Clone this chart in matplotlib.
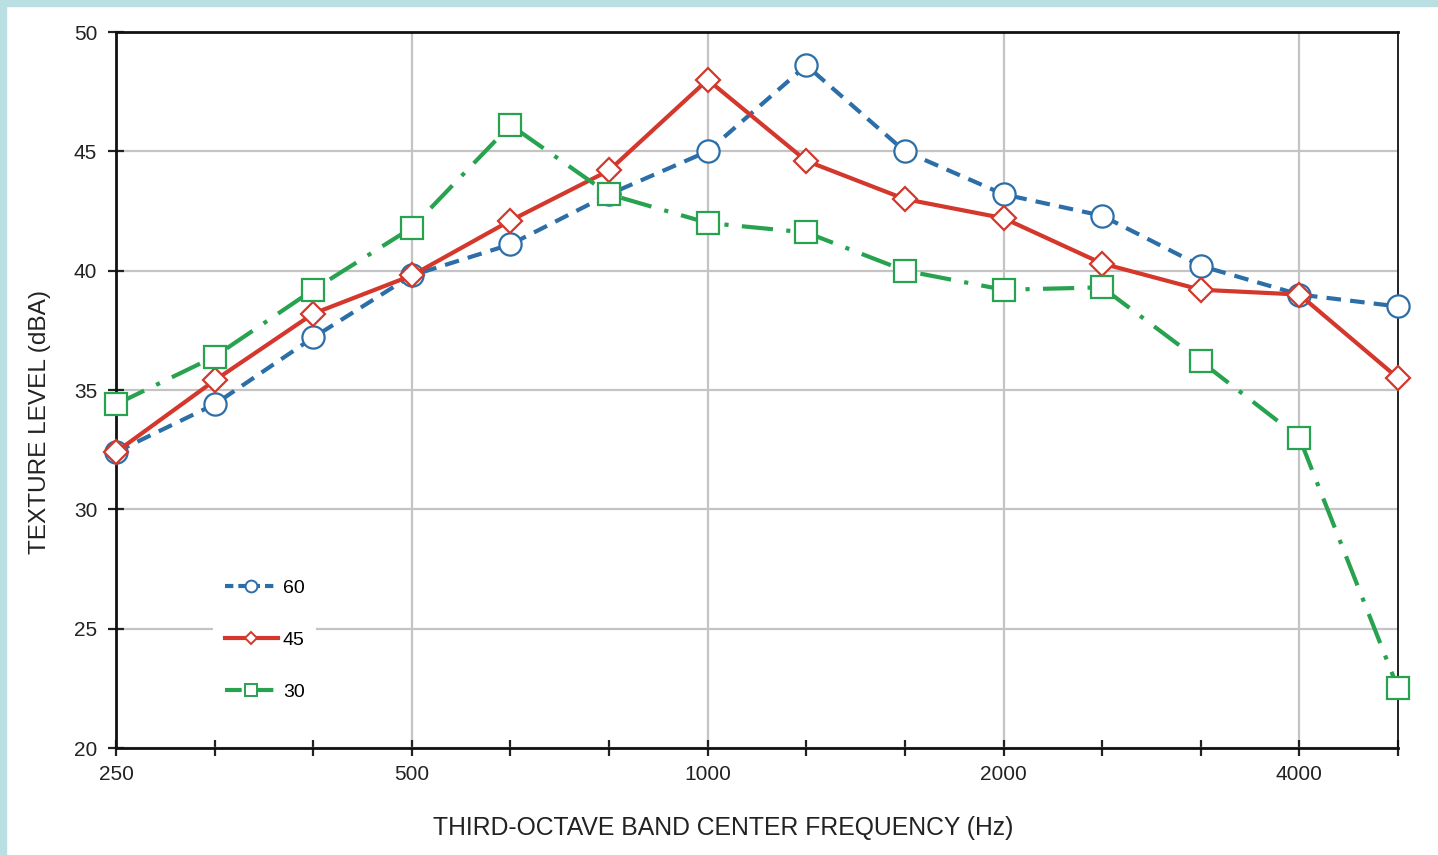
import numpy as np
import matplotlib.pyplot as plt
from matplotlib.lines import Line2D
from matplotlib.patches import Rectangle

plt.rcParams['font.family'] = ['Liberation Sans', 'DejaVu Sans']

# third-octave band centres (Hz)
bands = [250, 315, 400, 500, 630, 800, 1000, 1250, 1600, 2000, 2500, 3150, 4000, 5000]
labelled = [250, 500, 1000, 2000, 4000]

# texture level (dBA) per band, one series per condition
level_60 = [32.4, 34.4, 37.2, 39.8, 41.1, 43.2, 45.0, 48.6, 45.0, 43.2, 42.3, 40.2, 39.0, 38.5]
level_45 = [32.4, 35.4, 38.2, 39.8, 42.1, 44.2, 48.0, 44.6, 43.0, 42.2, 40.3, 39.2, 39.0, 35.5]
level_30 = [34.4, 36.4, 39.2, 41.8, 46.1, 43.2, 42.0, 41.6, 40.0, 39.2, 39.3, 36.2, 33.0, 22.5]

BLUE = '#2b6ea8'
RED = '#d4372b'
GREEN = '#27a24f'

fig = plt.figure(figsize=(14.38, 8.55), dpi=100)
fig.patch.set_facecolor('white')
# light frame along the top and left edges
fig.patches.append(Rectangle((0, 1 - 6 / 855), 1, 6 / 855, transform=fig.transFigure,
                             color='#b9dfe3', zorder=0))
fig.patches.append(Rectangle((0, 0), 6 / 1438, 1, transform=fig.transFigure,
                             color='#b9dfe3', zorder=0))

ax = fig.add_axes([116 / 1438, 1 - 748 / 855, (1398 - 116) / 1438, (748 - 32) / 855])

x = np.arange(len(bands))

series = [
    (level_60, '60', BLUE, (0, (3.5, 2.2)), 'o', 16),
    (level_45, '45', RED, '-', 'D', 12),
    (level_30, '30', GREEN, (0, (7.5, 3.2, 1, 3.2)), 's', 16),
]
for vals, name, col, ls, mk, ms in series:
    ax.plot(x, vals, color=col, lw=3, ls=ls, marker=mk, ms=ms, mfc='white',
            mec=col, mew=1.6, clip_on=False, zorder=3)

ax.set_xlim(0, len(bands) - 1)
ax.set_ylim(20, 50)

major_idx = [bands.index(b) for b in labelled]
ax.set_xticks(major_idx)
ax.set_xticklabels([str(b) for b in labelled])
ax.set_xticks([i for i in x if i not in major_idx], minor=True)
ax.set_yticks(np.arange(20, 51, 5))

ax.tick_params(axis='both', which='both', direction='inout', length=11, width=1.6,
               color='#222222', labelsize=15, labelcolor='#222222')
ax.tick_params(axis='x', which='major', pad=7)
ax.tick_params(axis='y', which='major', pad=8)

ax.grid(True, which='major', color='#c4c4c4', lw=1.6, zorder=0)
ax.set_axisbelow(True)

for side in ['left', 'bottom', 'top']:
    ax.spines[side].set_linewidth(2)
ax.spines['right'].set_linewidth(1.3)
for sp in ax.spines.values():
    sp.set_color('#111111')
    sp.set_zorder(2.5)

fig.text(40 / 1438, 1 - 422 / 855, 'TEXTURE LEVEL (dBA)', rotation=90,
         ha='center', va='center', fontsize=17.6, color='#222222')
fig.text(723 / 1438, 1 - 828 / 855, 'THIRD-OCTAVE BAND CENTER FREQUENCY (Hz)',
         ha='center', va='center', fontsize=17.8, color='#222222')

handles = [
    Line2D([], [], color=BLUE, lw=3, ls=(0, (2, 1.2)), marker='o', ms=8.5, mfc='white', mec=BLUE, mew=1.4),
    Line2D([], [], color=RED, lw=3, ls='-', marker='D', ms=6, mfc='white', mec=RED, mew=1.4),
    Line2D([], [], color=GREEN, lw=3, ls=(0, (4, 1.5, 0.6, 1.5)), marker='s', ms=8.5, mfc='white', mec=GREEN, mew=1.4),
]
leg = ax.legend(handles, ['60', '45', '30'], loc='lower left',
                bbox_to_anchor=(0.068, 0.036), frameon=True, fancybox=False,
                edgecolor='none', facecolor='white', framealpha=1,
                fontsize=14, handlelength=2.75, handletextpad=0.25,
                labelspacing=1.76, borderpad=0.6)
leg.set_zorder(5)

fig.savefig('out.png', dpi=100)
